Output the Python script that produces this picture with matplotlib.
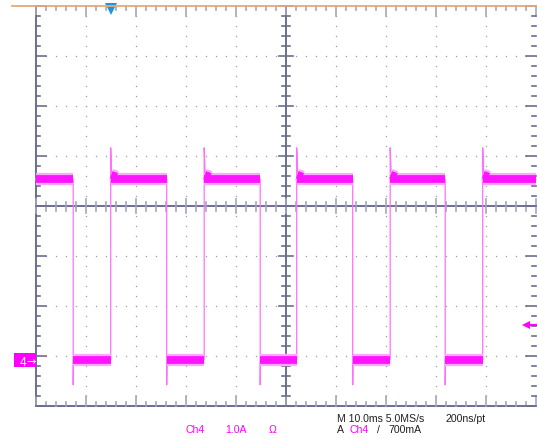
import numpy as np
import matplotlib.pyplot as plt
from matplotlib.patches import Rectangle

# scope settings (10 ms/div, 1 A/div)
fall_ms = [-42.5, -23.8, -5.1, 13.4, 31.9]
rise_ms = [-35.0, -16.3, 2.2, 20.9, 39.4]
high_a = 3.61
low_a = 0.0
overshoot_a = 4.24
undershoot_a = -0.5
settle_ms = [0.2, 1.2]
settle_a = [3.70, 3.66]
trig_level_a = 0.7
trig_pos_ms = -35.0

W, H = 537, 439
XL, XR = -50.0, 50.0
YB, YT = -0.93, 7.07
MAG = '#FF00FF'
FRAME = '#6A6E8C'
TICK = '#A4A6C0'
DOT = '#9C9CB0'

fig = plt.figure(figsize=(W / 100, H / 100), dpi=100)
ax = fig.add_axes([35.7 / W, (H - 407.3) / H, 500 / W, 400 / H])
ax.set_xlim(XL, XR)
ax.set_ylim(YB, YT)
ax.axis('off')

dx = 1 / 5.0    # ms per pixel
dy = 1 / 50.0   # A per pixel
ymid = (YB + YT) / 2

# dotted graticule
xs_major = np.arange(-40, 41, 10)
ys_major = YB + np.arange(1, 8)
for xg in xs_major:
    if xg == 0:
        continue
    yy = np.arange(YB, YT + 1e-6, 0.2)
    ax.plot(np.full_like(yy, xg), yy, ls='none', marker='s', ms=0.9, mew=0,
            color=DOT, clip_on=False)
for yg in ys_major:
    if abs(yg - ymid) < 1e-6:
        continue
    xx = np.arange(XL, XR + 1e-6, 2)
    ax.plot(xx, np.full_like(xx, yg), ls='none', marker='s', ms=0.9, mew=0,
            color=DOT, clip_on=False)

# frame
ax.plot([XL, XL], [YB, YT], color=FRAME, lw=1.4, clip_on=False)
ax.plot([XL, XR], [YB, YB], color=FRAME, lw=1.4, clip_on=False)
ax.plot([0, 0], [YB, YT], color=FRAME, lw=1.4, clip_on=False)
ax.plot([XL, XR], [ymid, ymid], color=FRAME, lw=1.4, clip_on=False)

# ticks along x (top, bottom, centre line)
for i, xt in enumerate(np.arange(XL, XR + 1e-6, 2)):
    major = (i % 5 == 0)
    ln = 10 if major else 4
    ax.plot([xt, xt], [YT, YT - ln * dy], color=TICK, lw=1.2, clip_on=False)
    ax.plot([xt, xt], [YB, YB + ln * dy], color=TICK, lw=1.2, clip_on=False)
    c = 7 if major else 4.5
    ax.plot([xt, xt], [ymid - c * dy, ymid + c * dy], color=TICK, lw=1.2,
            clip_on=False)
# ticks along y (left, right, centre line)
for i, yt in enumerate(np.arange(YB, YT + 1e-6, 0.2)):
    major = (i % 5 == 0)
    ln = 10 if major else 4
    ax.plot([XL, XL + ln * dx], [yt, yt], color=FRAME, lw=1.2, clip_on=False)
    ax.plot([XR, XR - ln * dx], [yt, yt], color=FRAME, lw=1.2, clip_on=False)
    c = 7 if major else 4
    ax.plot([-c * dx, c * dx], [yt, yt], color=FRAME, lw=1.2, clip_on=False)

# orange top border
fig.add_artist(plt.Line2D([12 / W, 1], [1 - 6.5 / H, 1 - 6.5 / H],
                          color='#E6A978', lw=1.3))

# waveform outline (fast edges with over/undershoot)
tx, ty = [XL], [high_a]
band_hi, band_lo, band_settle = [], [], []
seg_start = XL
for f, r in zip(fall_ms, rise_ms):
    tx += [f, f, f + 0.05]
    ty += [high_a, undershoot_a, low_a]
    band_hi.append(([seg_start, f], [high_a, high_a]))
    band_lo.append(([f, r], [low_a, low_a]))
    tx += [r, r]
    ty += [low_a, overshoot_a]
    tx += [r + s for s in settle_ms]
    ty += settle_a
    seg_start = r
    band_settle.append(([r + 0.1, r + settle_ms[-1]], [settle_a[0], settle_a[-1]]))
band_hi.append(([seg_start, XR], [high_a, high_a]))
tx.append(XR)
ty.append(high_a)

ax.plot(tx, ty, color='#FF70FF', lw=0.9, clip_on=False)
for sx, sy in band_hi + band_lo + band_settle:
    ax.plot(sx, sy, color='#FFA8FF', lw=8.8, solid_capstyle='butt')
for sx, sy in band_hi + band_lo + band_settle:
    ax.plot(sx, sy, color='#FF14FF', lw=5.6, solid_capstyle='butt')

# trigger position (blue) and trigger level (magenta arrow)
ax.plot([trig_pos_ms], [YT - 3 * dy], marker='v', ms=8, color='#1E96DC',
        mew=0, clip_on=False)
ax.plot([XR - 9 * dx, XR + 1.5 * dx], [trig_level_a, trig_level_a],
        color=MAG, lw=1.6, solid_capstyle='butt', clip_on=False)
ax.plot([XR - 9.5 * dx], [trig_level_a], marker='<', ms=6, mew=0,
        color=MAG, clip_on=False)

# channel ground marker
fig.add_artist(Rectangle((14 / W, 1 - 368 / H), 21.7 / W, 14 / H,
                         transform=fig.transFigure, color=MAG, lw=0))
fig.text(19.5 / W, 1 - 366 / H, '4', color='white', fontsize=8.5,
         family='Liberation Sans', va='baseline')
fig.text(26.5 / W, 1 - 365.5 / H, '\u2192', color='white', fontsize=8,
         va='baseline')

fs = 7.6
fn = 'Liberation Sans'
fig.text(186 / W, 1 - 433 / H, 'Ch4', color=MAG, fontsize=fs, family=fn)
fig.text(225 / W, 1 - 433 / H, '1.0A', color=MAG, fontsize=fs, family=fn)
fig.text(269 / W, 1 - 433 / H, '\u03a9', color=MAG, fontsize=fs, family=fn)
fig.text(337 / W, 1 - 422 / H, 'M 10.0ms 5.0MS/s', color='#202020',
         fontsize=fs, family=fn)
fig.text(446 / W, 1 - 422 / H, '200ns/pt', color='#202020', fontsize=fs,
         family=fn)
fig.text(337 / W, 1 - 433 / H, 'A', color='#202020', fontsize=fs, family=fn)
fig.text(349 / W, 1 - 433 / H, 'Ch4', color=MAG, fontsize=fs, family=fn)
fig.text(377 / W, 1 - 433 / H, '/', color='#202020', fontsize=fs, family=fn)
fig.text(388 / W, 1 - 433 / H, '700mA', color='#202020', fontsize=fs,
         family=fn)

fig.savefig('out.png', dpi=100)
